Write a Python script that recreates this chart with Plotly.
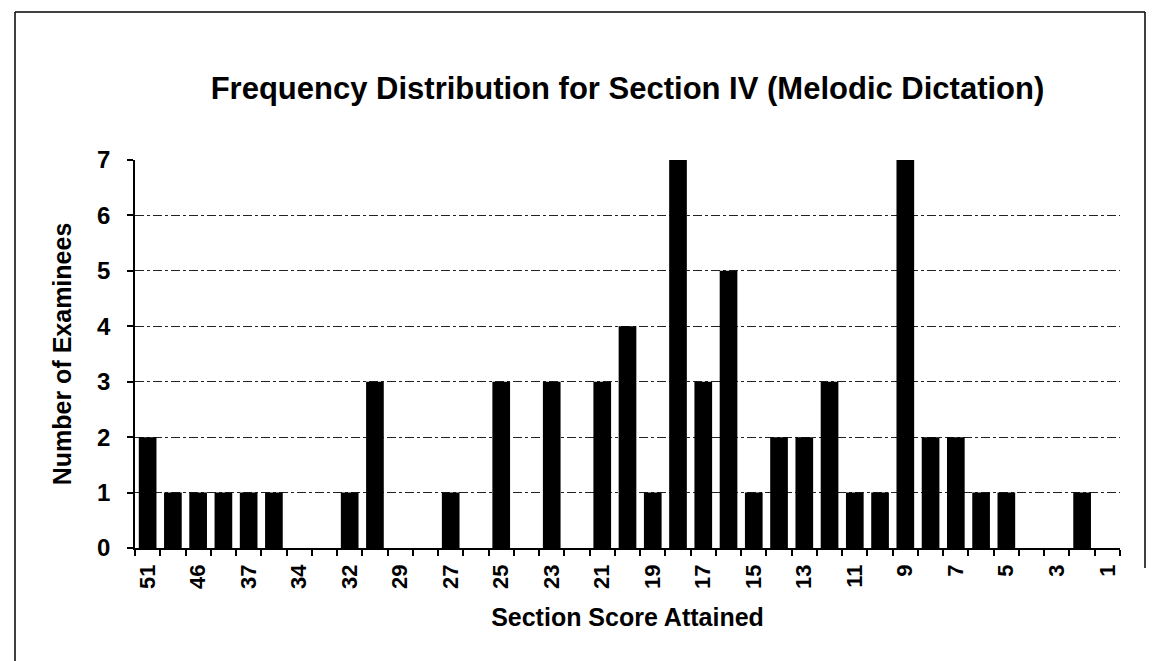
import plotly.graph_objects as go

# Section scores (categories, high to low) and number of examinees per score
scores = ["51", "48", "46", "40", "37", "36", "34", "33", "32", "30",
          "29", "28", "27", "26", "25", "24", "23", "22", "21", "20",
          "19", "18", "17", "16", "15", "14", "13", "12", "11", "10",
          "9", "8", "7", "6", "5", "4", "3", "2", "1"]
counts = [2, 1, 1, 1, 1, 1, 0, 0, 1, 3,
          0, 0, 1, 0, 3, 0, 3, 0, 3, 4,
          1, 7, 3, 5, 1, 2, 2, 3, 1, 1,
          7, 2, 2, 1, 1, 0, 0, 1, 0]
y_ticks = [0, 1, 2, 3, 4, 5, 6, 7]

title = "Frequency Distribution for Section IV (Melodic Dictation)"
x_title = "Section Score Attained"
y_title = "Number of Examinees"

W, H = 1154, 661
L, R, T, B = 127, 1112, 152, 540

pos = list(range(len(scores)))
FONT = "Liberation Sans, Arial, sans-serif"

fig = go.Figure(go.Bar(
    x=pos, y=counts,
    marker=dict(color="black", line=dict(width=0)),
    hoverinfo="skip",
))

fig.update_layout(
    width=W, height=H,
    margin=dict(l=L, r=W - R, t=T, b=H - B, pad=0),
    paper_bgcolor="white", plot_bgcolor="white",
    bargap=0.3,
    showlegend=False,
    font=dict(family=FONT, color="black", weight="bold"),
    title=dict(text=title, x=(L + R) / 2 / W, xanchor="center",
               y=1 - 80 / H, yanchor="middle", yref="container",
               font=dict(size=31, family=FONT, color="black", weight="bold")),
)

fig.update_xaxes(
    range=[-0.5, len(scores) - 0.5],
    tickmode="array", tickvals=pos[::2], ticktext=scores[::2],
    tickangle=-90, ticks="", showgrid=False, zeroline=False,
    showline=True, linecolor="black", linewidth=1.5,
    tickfont=dict(size=22, family=FONT, color="black", weight="bold"),
    ticklabelstandoff=6,
    minor=dict(tickmode="array",
               tickvals=[p - 0.5 for p in pos] + [pos[-1] + 0.5],
               ticks="outside", ticklen=6, tickwidth=1.5, tickcolor="black",
               showgrid=False),
    title=dict(text=x_title, standoff=20,
               font=dict(size=25, family=FONT, color="black", weight="bold")),
    fixedrange=True,
)

fig.update_yaxes(
    range=[0, 7], tickmode="array", tickvals=y_ticks,
    ticks="outside", ticklen=6, tickwidth=1.5, tickcolor="black",
    showline=True, linecolor="black", linewidth=1.5,
    showgrid=True, gridcolor="#222222", gridwidth=1, griddash="dashdot",
    zeroline=False,
    tickfont=dict(size=24, family=FONT, color="black", weight="bold"),
    ticklabelstandoff=12,
    title=dict(text=y_title, standoff=18,
               font=dict(size=25, family=FONT, color="black", weight="bold")),
    fixedrange=True,
)

# outer chart frame (partial, as in the scan)
def px_to_paper_x(px):
    return (px - L) / (R - L)

def px_to_paper_y(py):
    return (B - py) / (B - T)

frame = [
    ((7, 4), (1137, 4)),
    ((7, 4), (7, 655)),
    ((7, 655), (95, 655)),
    ((1137, 4), (1137, 560)),
]
for (x0, y0), (x1, y1) in frame:
    fig.add_shape(type="line", xref="paper", yref="paper",
                  x0=px_to_paper_x(x0), y0=px_to_paper_y(y0),
                  x1=px_to_paper_x(x1), y1=px_to_paper_y(y1),
                  line=dict(color="black", width=1.5))

fig.write_html("out.html")
